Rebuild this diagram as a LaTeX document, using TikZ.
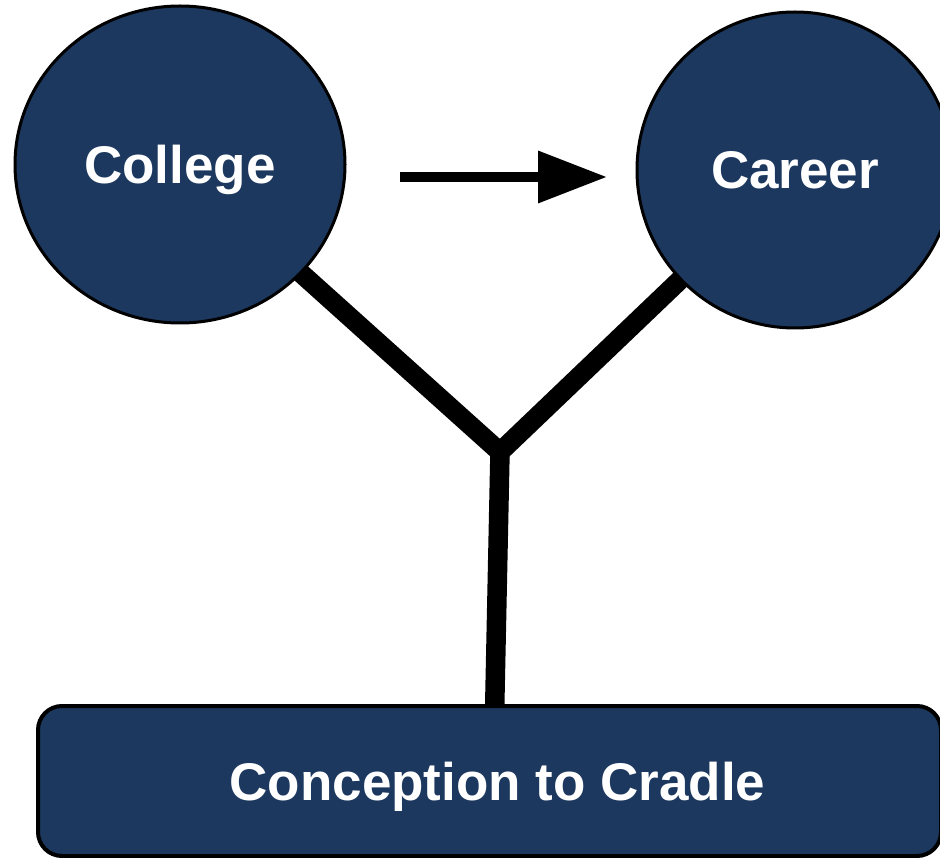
\documentclass[tikz,border=0pt]{standalone}
\usepackage{fontspec}
\setmainfont{Liberation Sans}
\usetikzlibrary{shapes.geometric,arrows.meta}
\definecolor{navy}{RGB}{28,56,94}
\tikzset{
  bubble/.style={ellipse, fill=navy, draw=black, line width=3pt, inner sep=0pt},
  basebox/.style={rectangle, rounded corners=24pt, fill=navy, draw=black, line width=4pt, minimum width=903pt, minimum height=150pt, inner sep=0pt},
  txt/.style={text=white, font=\fontsize{53}{60}\selectfont\bfseries, text height=38pt, text depth=0pt, inner sep=0pt},
  stem/.style={line width=19.5pt, line join=bevel},
  flow/.style={line width=10pt, -{Triangle[length=69pt, width=50pt]}}
}
\begin{document}
\begin{tikzpicture}[x=1pt, y=-1pt]
\useasboundingbox (0,0) rectangle (940,858);
% positions
\coordinate (j) at (500,452);
\coordinate (a1) at (400,177);
\coordinate (a2) at (607,177);
\coordinate (collegepos) at (180,164.5);
\coordinate (careerpos) at (795,170);
\coordinate (stembot) at (494,740);
% connectors behind shapes
\draw[stem] (collegepos) -- (j) -- (careerpos);
\draw[stem] (j) -- (stembot);
% shapes
\node[bubble, minimum width=330pt, minimum height=317pt] (college) at (collegepos) {};
\node[txt] (collegetxt) at (college.center) {College};
\node[bubble, minimum width=316pt, minimum height=316pt] (career) at (careerpos) {};
\node[txt] (careertxt) at (career.center) {Career};
\node[basebox] (box) at (489.5,781) {};
\node[txt] (boxtxt) at ([xshift=8pt]box.center) {Conception to Cradle};
% arrow
\draw[flow] (a1) -- (a2);
\end{tikzpicture}
\end{document}
